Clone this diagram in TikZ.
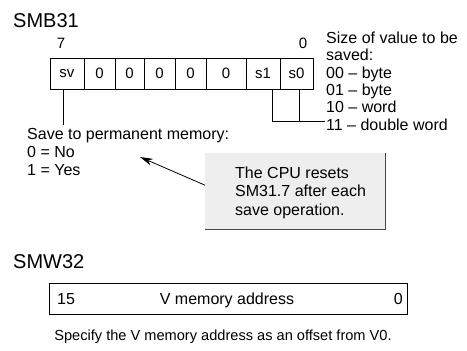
\documentclass[tikz,border=0pt]{standalone}
\usepackage{fontspec}
\setmainfont{Liberation Sans}
\usetikzlibrary{arrows.meta}

\begin{document}
\begin{tikzpicture}[
  x=1pt, y=-1pt,
  every node/.style={inner sep=0pt, font=\fontsize{16}{18}\selectfont},
  title/.style={anchor=base west, font=\fontsize{20}{24}\selectfont},
  txt/.style={anchor=base west},
  cell/.style={draw, line width=0.8pt, minimum height=31pt, font=\fontsize{15}{18}\selectfont},
  note/.style={fill=gray!13, minimum width=180pt, minimum height=76pt, anchor=north west},
  link/.style={line width=0.8pt},
  arr/.style={-{Stealth[length=13pt, width=7pt]}, line width=0.8pt}
]
\useasboundingbox (0,0) rectangle (467,351);

% SMB31 byte
\node[title] (smb) at (13,27) {SMB31};
\node[anchor=base, font=\fontsize{15}{18}\selectfont] (hi) at (61,48) {7};
\node[anchor=base, font=\fontsize{15}{18}\selectfont] (lo) at (303,48) {0};
\foreach \xa/\xb/\bit [count=\i] in {50/84/sv, 84/115/0, 115/144/0, 144/175/0, 175/206/0, 206/246/0, 246/280/s1, 280/313/s0}
  \node[cell, minimum width={(\xb-\xa)*1pt}] (c\i) at ({(\xa+\xb)/2},73.5) {\bit};

% save bit
\coordinate (svend) at (63,125);
\draw[link] (c1.south -| svend) -- (svend);
\foreach \t [count=\i] in {Save to permanent memory:, 0 = No, 1 = Yes}
  \node[txt] (save\i) at (27,{139.5+18*(\i-1)}) {\t};

% size bits
\coordinate (szend) at (325,121);
\draw[link] ([xshift=9pt]c7.south) |- (szend);
\draw[link] ([xshift=2.5pt]c8.south) -- ([xshift=2.5pt]c8.south |- szend);
\foreach \t [count=\i] in {Size of value to be, saved:, 00 -- byte, 01 -- byte, 10 -- word, 11 -- double word}
  \node[txt] (size\i) at (326,{43.3+17.4*(\i-1)}) {\t};

% note box
\node[note] (cpu) at (205,153) {};
\draw[gray!55!black, line width=1.5pt] (cpu.north east) -- (cpu.south east) -- (cpu.south west);
\foreach \t [count=\i] in {The CPU resets, SM31.7 after each, save operation.}
  \node[txt] (cpu\i) at (235,{178+18.5*(\i-1)}) {\t};
\coordinate (tip) at (140,157);
\draw[arr] ([yshift=6pt]cpu.west) -- (tip);

% SMW32 word
\node[title] (smw) at (13,268) {SMW32};
\node[draw, line width=0.8pt, minimum width=358pt, minimum height=31pt] (vaddr) at (228,298.5) {};
\node[txt] (msb) at (57,304) {15};
\node[anchor=base] (vtext) at (227,304) {V memory address};
\node[anchor=base east] (lsb) at (403,304) {0};
\node[anchor=base, font=\fontsize{14.6}{17}\selectfont] (hint) at (223,340) {Specify the V memory address as an offset from V0.};
\end{tikzpicture}
\end{document}
